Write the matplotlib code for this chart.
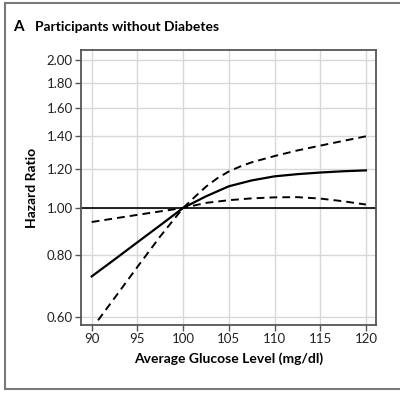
import matplotlib
matplotlib.use("Agg")
import matplotlib.pyplot as plt
from matplotlib.lines import Line2D
from matplotlib.ticker import FixedLocator, NullLocator

# Data
x_main = [90, 92.5, 95, 97.5, 100, 102.5, 105, 107.5, 110, 112.5, 115, 117.5, 120]
hr_main = [0.725, 0.785, 0.851, 0.922, 1.0, 1.056, 1.107, 1.138, 1.160, 1.172, 1.181, 1.188, 1.193]

x_steep = [90.7, 92.5, 95, 97.5, 100, 101.25, 102.5, 103.75, 105, 106.25, 107.5, 110, 112.5, 115, 117.5, 120]
hr_steep = [0.59, 0.655, 0.758, 0.875, 1.0, 1.052, 1.105, 1.15, 1.187, 1.215, 1.239, 1.276, 1.31, 1.34, 1.37, 1.40]

x_flat = [90, 92.5, 95, 97.5, 100, 102.5, 105, 107.5, 110, 112.5, 115, 117.5, 120]
hr_flat = [0.936, 0.952, 0.968, 0.984, 1.0, 1.024, 1.037, 1.046, 1.051, 1.052, 1.045, 1.032, 1.016]

x_ticks = [90, 95, 100, 105, 110, 115, 120]
y_ticks = [0.60, 0.80, 1.00, 1.20, 1.40, 1.60, 1.80, 2.00]
y_ticklabels = ["0.60", "0.80", "1.00", "1.20", "1.40", "1.60", "1.80", "2.00"]

title_letter = "A"
title_text = "Participants without Diabetes"
xlabel = "Average Glucose Level (mg/dl)"
ylabel = "Hazard Ratio"

plt.rcParams['font.family'] = ['Lato', 'DejaVu Sans']

fig = plt.figure(figsize=(4.0, 3.93), dpi=100)
W, H = 400, 393
ax = fig.add_axes([81 / W, 1 - 325 / H, (376 - 81) / W, (325 - 50) / H])

ax.set_yscale('log')
ax.set_xlim(88.83, 121.1)
ax.set_ylim(0.577, 2.10)

ax.yaxis.set_major_locator(FixedLocator(y_ticks))
ax.yaxis.set_minor_locator(NullLocator())
ax.set_yticklabels(y_ticklabels)
ax.set_xticks(x_ticks)

ax.grid(True, color='#d8d8d8', linewidth=1.0, zorder=0)
ax.set_axisbelow(True)

ax.axhline(1.0, color='black', linewidth=1.2, zorder=2)
ax.plot(x_main, hr_main, color='black', linewidth=1.6, zorder=3)
ax.plot(x_steep, hr_steep, color='black', linewidth=1.4, linestyle=(0, (4, 2.6)), zorder=3)
ax.plot(x_flat, hr_flat, color='black', linewidth=1.4, linestyle=(0, (4, 2.6)), zorder=3)

for s in ax.spines.values():
    s.set_color('#555555')
    s.set_linewidth(1.3)

ax.tick_params(axis='both', direction='out', length=4, width=1, color='#555555',
               labelsize=9.5, labelcolor='#222222', pad=2)

ax.set_xlabel(xlabel, fontsize=10, fontweight='bold', labelpad=5)
ax.set_ylabel(ylabel, fontsize=10, fontweight='bold', labelpad=6)

fig.text(13 / W, 1 - 27 / H, title_letter, fontsize=11, fontweight='bold', va='center', ha='left')
fig.text(35 / W, 1 - 27 / H, title_text, fontsize=10, fontweight='bold', va='center', ha='left')

# Outer panel frame (top, left, bottom)
frame_color = '#7a7a7a'
fig.add_artist(Line2D([5 / W, 1.0], [1 - 3 / H, 1 - 3 / H], color=frame_color, linewidth=1.5, transform=fig.transFigure))
fig.add_artist(Line2D([5 / W, 5 / W], [1 - 3 / H, 1 - 389 / H], color=frame_color, linewidth=1.5, transform=fig.transFigure))
fig.add_artist(Line2D([5 / W, 1.0], [1 - 389 / H, 1 - 389 / H], color=frame_color, linewidth=1.5, transform=fig.transFigure))

fig.savefig("out.png", dpi=100)
